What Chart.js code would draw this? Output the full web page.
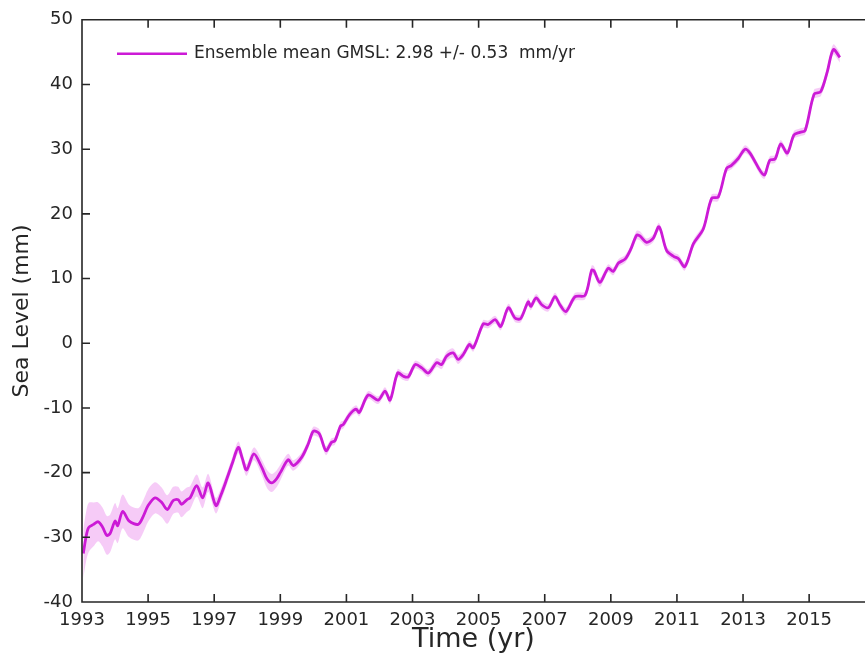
<!DOCTYPE html>
<html>
<head>
<meta charset="utf-8">
<title>Global Mean Sea Level</title>
<script src="https://cdn.jsdelivr.net/npm/chart.js@4"></script>
<style>
  html, body { margin: 0; padding: 0; background: #ffffff; overflow: hidden; }
  #wrap { width: 865px; height: 662px; }
</style>
</head>
<body>
<div id="wrap"><canvas id="chart" width="865" height="662"></canvas></div>
<script>
// Time axis (decimal years)
const years = [
  1993.04, 1993.12, 1993.20, 1993.35, 1993.49, 1993.62, 1993.75, 1993.85,
  1994.00, 1994.08, 1994.23, 1994.43, 1994.70, 1994.85,
  1995.00, 1995.21, 1995.41, 1995.58, 1995.76, 1995.91,
  1996.01, 1996.17, 1996.27, 1996.47, 1996.65, 1996.82,
  1997.05, 1997.20, 1997.38, 1997.55, 1997.73, 1997.85, 1997.98,
  1998.20, 1998.44, 1998.60, 1998.74, 1998.88,
  1999.00, 1999.24, 1999.39, 1999.65, 1999.85,
  2000.00, 2000.18, 2000.38, 2000.55, 2000.65, 2000.82, 2000.90,
  2001.10, 2001.29, 2001.39, 2001.66, 2001.96,
  2002.17, 2002.32, 2002.55, 2002.72, 2002.87,
  2003.08, 2003.28, 2003.48, 2003.73, 2003.88,
  2004.03, 2004.23, 2004.38, 2004.54, 2004.72, 2004.84,
  2005.14, 2005.29, 2005.50, 2005.67, 2005.90,
  2006.10, 2006.27, 2006.50, 2006.58, 2006.74, 2006.91,
  2007.11, 2007.31, 2007.46, 2007.64, 2007.92,
  2008.22, 2008.42, 2008.49, 2008.67, 2008.92,
  2009.07, 2009.23, 2009.43, 2009.60, 2009.78, 2009.88,
  2010.08, 2010.28, 2010.46, 2010.69, 2010.91,
  2011.04, 2011.24, 2011.50, 2011.80,
  2012.05, 2012.25, 2012.50, 2012.65, 2012.86,
  2013.06, 2013.21, 2013.63, 2013.81, 2013.97,
  2014.14, 2014.34, 2014.54, 2014.72, 2014.88,
  2015.15, 2015.35, 2015.55, 2015.73, 2015.93
];

// Ensemble mean GMSL (mm)
const gmsl = [
  -32.5, -30.0, -28.5, -28.0, -27.6, -28.4, -29.7, -29.4,
  -27.5, -28.2, -26.0, -27.5, -28.0, -26.8,
  -25.1, -23.9, -24.6, -25.7, -24.3, -24.2,
  -24.9, -24.2, -23.9, -22.0, -23.9, -21.6,
  -25.1, -23.5, -21.0, -18.5, -16.1, -17.8, -19.6,
  -17.1, -19.2, -21.0, -21.6, -21.0,
  -20.0, -18.0, -18.9, -17.6, -15.5,
  -13.6, -14.0, -16.6, -15.3, -15.1, -12.8, -12.6,
  -11.0, -10.2, -10.7, -8.0, -8.8,
  -7.4, -8.8, -4.6, -5.1, -5.2,
  -3.3, -3.8, -4.6, -3.0, -3.3,
  -2.0, -1.5, -2.5, -1.7, -0.2, -0.7,
  3.0, 2.9, 3.65, 2.6, 5.5,
  3.9, 3.8, 6.4, 5.7, 7.0, 5.95,
  5.5, 7.2, 5.95, 4.9, 7.2,
  7.4, 11.3, 11.2, 9.4, 11.6,
  11.1, 12.4, 13.0, 14.5, 16.7, 16.6,
  15.6, 16.2, 18.0, 14.3, 13.4,
  13.1, 11.85, 15.4, 17.7,
  22.4, 22.6, 27.0, 27.5, 28.6,
  30.0, 29.4, 26.0, 28.3, 28.5,
  30.8, 29.4, 32.2, 32.6, 32.9,
  38.5, 38.9, 42.0, 45.4, 44.2
];

// Ensemble spread (half width of the shaded envelope, mm)
const spread = [
  3.8, 3.8, 3.8, 3.4, 3.0, 3.0, 3.0, 2.9,
  2.8, 2.7, 2.6, 2.5, 2.5, 2.5,
  2.5, 2.4, 2.3, 2.2, 2.1, 2.0,
  2.0, 1.9, 1.8, 1.7, 1.6, 1.4,
  1.2, 1.0, 0.9, 0.9, 0.9, 0.9, 0.9,
  1.0, 1.2, 1.4, 1.4, 1.3,
  1.2, 0.9, 0.8, 0.7, 0.7,
  0.7, 0.7, 0.7, 0.6, 0.6, 0.6, 0.6,
  0.6, 0.6, 0.6, 0.6, 0.6,
  0.6, 0.6, 0.6, 0.6, 0.6,
  0.6, 0.6, 0.6, 0.7, 0.7,
  0.7, 0.7, 0.7, 0.6, 0.6, 0.6,
  0.6, 0.6, 0.6, 0.6, 0.6,
  0.6, 0.6, 0.6, 0.6, 0.6, 0.6,
  0.6, 0.6, 0.6, 0.6, 0.6,
  0.6, 0.7, 0.7, 0.7, 0.6,
  0.6, 0.6, 0.6, 0.6, 0.7, 0.7,
  0.6, 0.6, 0.6, 0.6, 0.6,
  0.6, 0.6, 0.6, 0.6,
  0.6, 0.6, 0.6, 0.6, 0.6,
  0.6, 0.6, 0.6, 0.6, 0.6,
  0.6, 0.6, 0.6, 0.6, 0.6,
  0.7, 0.7, 0.8, 0.8, 0.8
];

const yearTicks = [1993, 1995, 1997, 1999, 2001, 2003, 2005, 2007, 2009, 2011, 2013, 2015];
const levelTicks = [-40, -30, -20, -10, 0, 10, 20, 30, 40, 50];
const legendLabel = 'Ensemble mean GMSL: 2.98 +/- 0.53  mm/yr';

const lineColor = 'rgb(204, 26, 214)';
const bandColor = 'rgba(238, 160, 240, 0.55)';
const inkColor = '#262626';
const fontFamily = '"DejaVu Sans", sans-serif';

const meanPoints = years.map((t, i) => ({ x: t, y: gmsl[i] }));
const lowerPoints = years.map((t, i) => ({ x: t, y: gmsl[i] - spread[i] }));
const upperPoints = years.map((t, i) => ({ x: t, y: gmsl[i] + spread[i] }));

// Box frame with inward tick marks, plus the in-plot legend
const framePlugin = {
  id: 'frame',
  afterDraw(chart) {
    const { ctx, chartArea: a, scales: { x, y } } = chart;
    const tickLen = 8;
    ctx.save();
    ctx.strokeStyle = inkColor;
    ctx.lineWidth = 1.6;
    ctx.lineCap = 'butt';
    ctx.beginPath();
    ctx.moveTo(a.right + 2, a.top);
    ctx.lineTo(a.left, a.top);
    ctx.lineTo(a.left, a.bottom);
    ctx.lineTo(a.right + 2, a.bottom);
    yearTicks.forEach(v => {
      const px = x.getPixelForValue(v);
      ctx.moveTo(px, a.bottom);
      ctx.lineTo(px, a.bottom - tickLen);
      ctx.moveTo(px, a.top);
      ctx.lineTo(px, a.top + tickLen);
    });
    levelTicks.forEach(v => {
      const py = y.getPixelForValue(v);
      ctx.moveTo(a.left, py);
      ctx.lineTo(a.left + tickLen, py);
    });
    ctx.stroke();

    // legend entry
    const ly = a.top + 34;
    ctx.strokeStyle = lineColor;
    ctx.lineWidth = 2.6;
    ctx.beginPath();
    ctx.moveTo(a.left + 35, ly);
    ctx.lineTo(a.left + 105, ly);
    ctx.stroke();
    ctx.fillStyle = inkColor;
    ctx.font = '17px ' + fontFamily;
    ctx.textBaseline = 'middle';
    ctx.textAlign = 'left';
    ctx.fillText(legendLabel, a.left + 112, ly);
    ctx.restore();
  }
};

new Chart(document.getElementById('chart'), {
  type: 'line',
  data: {
    datasets: [
      {
        label: legendLabel,
        data: meanPoints,
        borderColor: lineColor,
        borderWidth: 2.8,
        pointRadius: 0,
        tension: 0.3,
        fill: false
      },
      {
        label: 'lower',
        data: lowerPoints,
        borderWidth: 0,
        borderColor: 'rgba(0,0,0,0)',
        pointRadius: 0,
        tension: 0.3,
        fill: false
      },
      {
        label: 'upper',
        data: upperPoints,
        borderWidth: 0,
        borderColor: 'rgba(0,0,0,0)',
        backgroundColor: bandColor,
        pointRadius: 0,
        tension: 0.3,
        fill: '-1'
      }
    ]
  },
  options: {
    responsive: false,
    animation: false,
    layout: { padding: { top: 17, right: 0, bottom: 0, left: 0 } },
    plugins: {
      legend: { display: false },
      tooltip: { enabled: false }
    },
    scales: {
      x: {
        type: 'linear',
        min: 1993,
        max: 2016.69,
        afterBuildTicks(s) { s.ticks = yearTicks.map(v => ({ value: v })); },
        afterFit(s) { s.height = 60; },
        grid: { display: false, drawTicks: false },
        border: { display: false },
        ticks: {
          color: inkColor,
          font: { family: fontFamily, size: 18 },
          padding: 8,
          maxRotation: 0,
          autoSkip: false,
          callback: v => String(v)
        },
        title: {
          display: true,
          text: 'Time (yr)',
          color: inkColor,
          font: { family: fontFamily, size: 27 },
          padding: { top: 0, bottom: 6 }
        }
      },
      y: {
        type: 'linear',
        min: -40,
        max: 50,
        afterBuildTicks(s) { s.ticks = levelTicks.map(v => ({ value: v })); },
        afterFit(s) { s.width = 82; },
        grid: { display: false, drawTicks: false },
        border: { display: false },
        ticks: {
          color: inkColor,
          font: { family: fontFamily, size: 18 },
          padding: 9,
          callback: v => String(v)
        },
        title: {
          display: true,
          text: 'Sea Level (mm)',
          color: inkColor,
          font: { family: fontFamily, size: 22 },
          padding: { top: 9, bottom: 0 }
        }
      }
    }
  },
  plugins: [framePlugin]
});
</script>
</body>
</html>
